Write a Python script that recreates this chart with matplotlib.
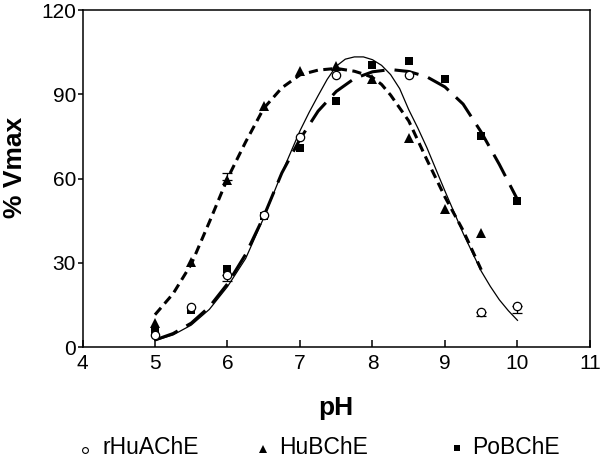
import matplotlib
matplotlib.use("Agg")
import numpy as np
import matplotlib.pyplot as plt
from matplotlib.lines import Line2D

plt.rcParams['font.family'] = ['Liberation Sans', 'DejaVu Sans']

# measured points
ph = [5, 5.5, 6, 6.5, 7, 7.5, 8, 8.5, 9, 9.5, 10]
rhu_ache = [4.3, 14.3, 25.6, 47, 74.9, 96.9, np.nan, 97, np.nan, 12.6, 14.6]
hu_bche = [8.5, 30.4, 59.5, 85.8, 98.3, 100, 95.3, 74.3, 49.2, 40.5, np.nan]
po_bche = [6, 13, 27.7, 46.7, 71, 87.7, 100.4, 101.7, 95.3, 75.1, 52]

# a few error bars (x, y, lower, upper)
err_ph = [6, 10, 9.5]
err_y = [25.6, 14.6, 12.6]
err_lo = [2.0, 2.6, 1.5]
err_hi = [0, 0, 0]
err_tri_ph = [6]
err_tri_y = [59.5]
err_tri_hi = [2.4]

# fitted curves
fit_a_ph = [5.0, 5.25, 5.5, 5.75, 6.0, 6.25, 6.5, 6.75, 7.0, 7.125, 7.25, 7.375, 7.5,
            7.625, 7.75, 7.875, 8.0, 8.125, 8.25, 8.375, 8.5, 8.625, 8.75, 9.0,
            9.25, 9.5, 9.625, 9.75, 9.875, 10.0]
fit_a = [2.3, 4.3, 7.8, 13.4, 21.5, 31.5, 46, 62, 77, 83.5, 89.5, 95.3, 100,
         102.5, 103.3, 103.3, 102.3, 100.3, 97, 92, 84.5, 78, 71, 55.5,
         40.5, 27, 21.6, 16.8, 12.9, 9.5]

fit_b_ph = [5.0, 5.25, 5.5, 5.75, 6.0, 6.25, 6.5, 6.75, 7.0, 7.25, 7.5, 7.75,
            7.875, 8.0, 8.125, 8.25, 8.5, 8.75, 9.0, 9.25, 9.5]
fit_b = [11.5, 19, 29.5, 44.5, 60, 73, 85, 92.3, 96.9, 98.6, 99.2, 98.2,
         97.2, 96, 93.5, 89.7, 80.5, 66.7, 53.4, 41.5, 27.5]

fit_c_ph = [5.0, 5.25, 5.5, 5.75, 6.0, 6.25, 6.5, 6.75, 7.0, 7.25, 7.5, 7.75,
            8.0, 8.25, 8.5, 8.75, 9.0, 9.25, 9.5, 9.75, 10.0]
fit_c = [2.5, 4.8, 8.5, 14.3, 22.5, 33, 46.5, 62, 74, 84, 91, 95.6,
         98, 98.8, 98.1, 96.2, 92.6, 86.5, 76.5, 65, 52.5]

fig = plt.figure(figsize=(6, 4.59), dpi=100)
ax = fig.add_axes([0.1375, 0.244, 0.8458, 0.7342])

ax.plot(fit_a_ph, fit_a, color='black', lw=0.9, solid_joinstyle='round')
ax.plot(fit_b_ph, fit_b, color='black', lw=2.2, linestyle=(0, (3, 1.8)))
ax.plot(fit_c_ph, fit_c, color='black', lw=2.2, linestyle=(0, (8, 3.3)))

ax.errorbar(err_ph, err_y, yerr=[err_lo, err_hi], fmt='none', ecolor='black',
            elinewidth=0.9, capsize=3.5, capthick=0.9)
ax.errorbar(err_tri_ph, err_tri_y, yerr=[[0], err_tri_hi], fmt='none', ecolor='black',
            elinewidth=0.9, capsize=3.5, capthick=0.9)

ax.plot(ph, po_bche, 's', color='black', ms=5.8, mew=0)
ax.plot(ph, hu_bche, '^', color='black', ms=7.5, mew=0)
ax.plot(ph, rhu_ache, 'o', mfc='white', mec='black', ms=6.0, mew=0.9)

ax.set_xlim(4, 11)
ax.set_ylim(0, 120)
ax.set_xticks(range(4, 12))
ax.set_yticks([0, 30, 60, 90, 120])
for s in ax.spines.values():
    s.set_linewidth(1.1)
ax.tick_params(axis='x', direction='in', length=5, width=1.1, labelsize=15, pad=5)
ax.tick_params(axis='y', direction='out', length=3.6, width=1.1, labelsize=15, pad=1)

fig.text(0.56, 1 - 415 / 459, 'pH', fontsize=19, fontweight='bold',
         ha='center', va='baseline')
fig.text(21.7 / 600, 1 - 167.5 / 459, '% Vmax', fontsize=19, fontweight='bold',
         rotation=90, rotation_mode='anchor', ha='center', va='baseline')

# legend along the bottom
text_y = 1 - 453.5 / 459
fig.add_artist(Line2D([85 / 600], [1 - 449.5 / 459], marker='o', mfc='white', mec='black',
                      ms=4.2, mew=0.8, transform=fig.transFigure))
fig.add_artist(Line2D([263.3 / 600], [1 - 448.5 / 459], marker='^', color='black',
                      ms=6.2, mew=0, transform=fig.transFigure))
fig.add_artist(Line2D([456.7 / 600], [1 - 447.5 / 459], marker='s', color='black',
                      ms=4.5, mew=0, transform=fig.transFigure))
fig.text(103 / 600, text_y, 'rHuAChE', fontsize=16.5, va='baseline')
fig.text(279 / 600, text_y, 'HuBChE', fontsize=16.5, va='baseline')
fig.text(472 / 600, text_y, 'PoBChE', fontsize=16.5, va='baseline')

fig.savefig('out.png', dpi=100)
